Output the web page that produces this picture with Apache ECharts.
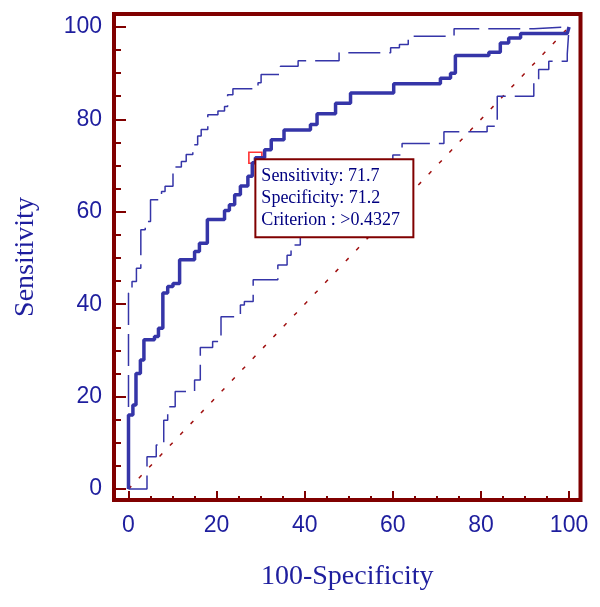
<!DOCTYPE html>
<html>
<head>
<meta charset="utf-8">
<script src="https://cdn.jsdelivr.net/npm/echarts@6/dist/echarts.min.js"></script>
<style>
  html, body { margin: 0; padding: 0; background: #fff; }
  #chart { width: 600px; height: 607px; }
</style>
</head>
<body>
<div id="chart"></div>
<script>
// ROC curve (staircase corners), 100-Specificity vs Sensitivity
const rocX = [0, 0, 1.0, 1.0, 1.7, 1.7, 2.7, 2.7, 3.5, 3.5, 5.9, 5.9, 6.8, 6.8, 7.8, 7.8, 8.9, 8.9, 10.1, 10.1, 11.6, 11.6, 15.0, 15.0, 16.1, 16.1, 17.9, 17.9, 21.8, 21.8, 22.9, 22.9, 24.1, 24.1, 25.4, 25.4, 27.1, 27.1, 28.1, 28.1, 28.8, 28.8, 30.9, 30.9, 32.4, 32.4, 35.3, 35.3, 41.3, 41.3, 42.8, 42.8, 47.0, 47.0, 50.4, 50.4, 60.2, 60.2, 70.8, 70.8, 73.1, 73.1, 74.2, 74.2, 81.8, 81.8, 84.4, 84.4, 86.3, 86.3, 89.0, 89.0, 99.6, 100]
const rocY = [0, 16.0, 16.0, 18.2, 18.2, 25.0, 25.0, 27.9, 27.9, 32.3, 32.3, 33.0, 33.0, 34.8, 34.8, 42.4, 42.4, 43.8, 43.8, 44.5, 44.5, 49.6, 49.6, 51.4, 51.4, 53.2, 53.2, 58.3, 58.3, 60.3, 60.3, 61.5, 61.5, 63.7, 63.7, 65.6, 65.6, 67.7, 67.7, 70.6, 70.6, 71.7, 71.7, 73.4, 73.4, 75.6, 75.6, 77.7, 77.7, 78.9, 78.9, 81.2, 81.2, 83.5, 83.5, 85.7, 85.7, 87.7, 87.7, 88.9, 88.9, 90.0, 90.0, 93.8, 93.8, 94.5, 94.5, 96.5, 96.5, 97.6, 97.6, 98.6, 98.6, 100]

// upper confidence bound
const upperX = [0, 0, 0.8, 0.8, 1.8, 1.8, 2.8, 2.8, 3.8, 3.8, 5.0, 5.0, 7.5, 7.5, 8.3, 8.3, 10.1, 10.1, 12.0, 12.0, 13.1, 13.1, 14.6, 14.6, 15.7, 15.7, 16.5, 16.5, 18.0, 18.0, 20.3, 20.3, 21.8, 21.8, 22.5, 22.5, 23.7, 23.7, 29.4, 29.4, 30.1, 30.1, 34.5, 34.5, 38.5, 38.5, 47.8, 47.8, 59.5, 59.5, 61.5, 61.5, 63.5, 63.5, 73.9, 73.9, 92.0, 92.0, 100]
const upperY = [0, 42.4, 42.4, 44.9, 44.9, 47.8, 47.8, 56.1, 56.1, 57.9, 57.9, 62.6, 62.6, 64.4, 64.4, 65.5, 65.5, 69.7, 69.7, 70.9, 70.9, 72.4, 72.4, 74.5, 74.5, 76.4, 76.4, 77.8, 77.8, 81.0, 81.0, 81.8, 81.8, 82.8, 82.8, 85.3, 85.3, 86.6, 86.6, 87.9, 87.9, 89.7, 89.7, 91.5, 91.5, 92.7, 92.7, 94.4, 94.4, 95.5, 95.5, 96.2, 96.2, 98.0, 98.0, 99.6, 99.6, 99.8, 100]

// lower confidence bound
const lowerX = [0, 4.2, 4.2, 6.3, 6.3, 8.0, 8.0, 8.9, 8.9, 10.6, 10.6, 15.0, 15.0, 16.3, 16.3, 19.1, 19.1, 21.0, 21.0, 25.4, 25.4, 26.3, 26.3, 28.3, 28.3, 33.9, 33.9, 36.0, 36.0, 36.9, 36.9, 39.0, 39.0, 45.0, 45.0, 52.0, 52.0, 60.0, 60.0, 62.1, 62.1, 71.6, 71.6, 81.4, 81.4, 83.7, 83.7, 92.0, 92.0, 93.1, 93.1, 95.4, 95.4, 99.6, 99.6, 100, 100]
const lowerY = [0, 0, 7.0, 7.0, 9.5, 9.5, 14.9, 14.9, 17.8, 17.8, 21.1, 21.1, 23.6, 23.6, 30.6, 30.6, 31.9, 31.9, 37.3, 37.3, 39.8, 39.8, 40.6, 40.6, 45.3, 45.3, 48.5, 48.5, 50.6, 50.6, 52.8, 52.8, 56.0, 56.0, 62.0, 62.0, 68.0, 68.0, 72.3, 72.3, 74.8, 74.8, 77.3, 77.3, 78.5, 78.5, 85.0, 85.0, 88.0, 88.0, 90.8, 90.8, 92.6, 92.6, 94.2, 94.2, 100]

const diagonal = [[0, 0], [100, 100]]
const cutoff = [28.8, 71.7]
const cutoffText = ['Sensitivity: 71.7', 'Specificity: 71.2', 'Criterion : >0.4327']

const majorTicks = [0, 20, 40, 60, 80, 100]
const minorTicks = [5, 10, 15, 25, 30, 35, 45, 50, 55, 65, 70, 75, 85, 90, 95]

const zip = (xs, ys) => xs.map((x, i) => [x, ys[i]])

const frame = '#800000'
const blue = '#3535a8'
const labelBlue = '#1e1e9e'
const tickFont = { color: labelBlue, fontFamily: 'Liberation Sans', fontSize: 23 }
const nameFont = { color: labelBlue, fontFamily: 'Liberation Serif', fontSize: 28 }

const xRange = { min: -3.29, max: 102.6 }
const yRange = { min: -2.38, max: 102.8 }
const noLine = { show: false, onZero: false }

const chart = echarts.init(document.getElementById('chart'))
chart.setOption({
  animation: false,
  backgroundColor: '#fff',
  grid: {
    left: 114, right: 19.5, top: 14, bottom: 107,
    show: true,
    borderColor: frame,
    borderWidth: 4,
    backgroundColor: '#fff',
    outerBoundsMode: 'none'
  },
  xAxis: [
    {
      type: 'value', position: 'bottom', ...xRange,
      name: '100-Specificity', nameLocation: 'middle', nameGap: 63, nameTextStyle: nameFont,
      axisLine: noLine,
      splitLine: { show: false },
      axisTick: { inside: true, length: 9, customValues: majorTicks, lineStyle: { color: frame, width: 2 }},
      axisLabel: { margin: 14, customValues: majorTicks, ...tickFont }
    },
    {
      type: 'value', position: 'bottom', ...xRange,
      axisLine: noLine,
      splitLine: { show: false },
      axisLabel: { show: false },
      axisTick: { inside: true, length: 4, customValues: minorTicks, lineStyle: { color: frame, width: 2 }}
    }
  ],
  yAxis: [
    {
      type: 'value', position: 'left', ...yRange,
      name: 'Sensitivity', nameLocation: 'middle', nameGap: 74, nameTextStyle: nameFont,
      axisLine: noLine,
      splitLine: { show: false },
      axisTick: { inside: true, length: 12, customValues: majorTicks, lineStyle: { color: frame, width: 2 }},
      axisLabel: { margin: 12, customValues: majorTicks, ...tickFont }
    },
    {
      type: 'value', position: 'left', ...yRange,
      axisLine: noLine,
      splitLine: { show: false },
      axisLabel: { show: false },
      axisTick: { inside: true, length: 7, customValues: minorTicks, lineStyle: { color: frame, width: 2 }}
    }
  ],
  series: [
    {
      type: 'line',
      data: diagonal,
      symbol: 'none',
      lineStyle: { color: '#a01010', width: 1.5, type: [4, 11] }
    },
    {
      type: 'line',
      data: zip(upperX, upperY),
      symbol: 'none',
      lineStyle: { color: blue, width: 1.5, type: [32, 9] }
    },
    {
      type: 'line',
      data: zip(lowerX, lowerY),
      symbol: 'none',
      lineStyle: { color: blue, width: 1.5, type: [32, 9] }
    },
    {
      type: 'line',
      data: zip(rocX, rocY),
      symbol: 'none',
      lineStyle: { color: blue, width: 3.5 }
    },
    {
      type: 'scatter',
      data: [cutoff],
      symbol: 'rect',
      symbolSize: [13, 11],
      itemStyle: { color: 'rgba(0,0,0,0)', borderColor: '#ff0000', borderWidth: 1.5 }
    }
  ]
})

// info box hangs off the cut-off point, covering the curves below it
const [cx, cy] = chart.convertToPixel({ xAxisIndex: 0, yAxisIndex: 0 }, cutoff)
chart.setOption({
  graphic: [
    {
      type: 'rect',
      z: 100,
      shape: { x: cx, y: cy + 1.5, width: 158, height: 78 },
      style: { fill: '#fff', stroke: frame, lineWidth: 2 }
    },
    {
      type: 'text',
      z: 101,
      x: cx + 6,
      y: cy + 7.5,
      style: {
        text: cutoffText.join('\n'),
        font: '18px "Liberation Serif"',
        lineHeight: 22,
        fill: '#000080',
        verticalAlign: 'top'
      }
    }
  ]
})
</script>
</body>
</html>
